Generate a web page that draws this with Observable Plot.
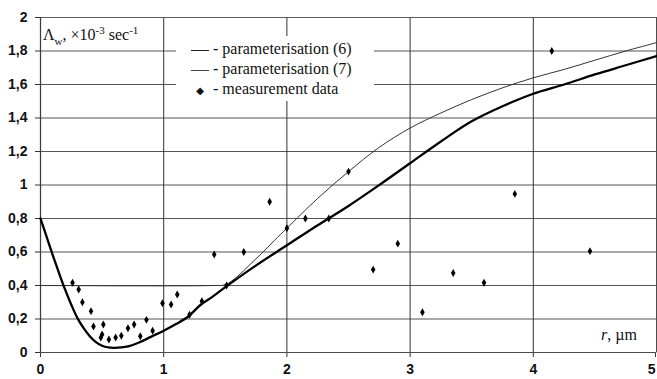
<!DOCTYPE html>
<html><head><meta charset="utf-8">
<script src="https://cdn.jsdelivr.net/npm/d3@7"></script>
<script src="https://cdn.jsdelivr.net/npm/@observablehq/plot@0.6"></script>
<style>
body{margin:0;background:#fff;}
#wrap{position:relative;width:657px;height:379px;}
#legend{position:absolute;left:176px;top:36px;width:198px;height:65px;background:#fff;font-family:"Liberation Serif",serif;font-size:16px;color:#111;}
#legend .row{position:absolute;left:0;height:20px;line-height:20px;white-space:nowrap;}
#ylab{position:absolute;left:43px;top:24px;font-family:"Liberation Serif",serif;font-size:16px;color:#111;}
#xlab{position:absolute;left:601px;top:326px;font-family:"Liberation Serif",serif;font-size:16px;color:#111;}
</style></head><body>
<div id="wrap"></div>
<script>
// parameterisation (6) — thick line
const p6x = [0,0.05,0.1,0.15,0.2,0.25,0.3,0.35,0.4,0.45,0.5,0.55,0.6,0.7,0.8,0.9,1.0,1.1,1.2,1.3,1.4,1.5,1.75,2,2.25,2.5,2.75,3,3.25,3.5,3.75,4,4.25,4.5,4.75,5];
const p6y = [0.8,0.69,0.58,0.475,0.375,0.285,0.205,0.145,0.097,0.062,0.04,0.03,0.028,0.035,0.06,0.095,0.13,0.17,0.215,0.285,0.335,0.39,0.52,0.64,0.76,0.875,1.0,1.13,1.26,1.38,1.47,1.545,1.6,1.66,1.715,1.77];
// parameterisation (7) — thin line
const p7x = [0,1.4,1.5,1.6,1.7,1.8,1.9,2,2.25,2.5,2.75,3,3.25,3.5,3.75,4,4.25,4.5,4.75,5];
const p7y = [0.4,0.4,0.405,0.455,0.525,0.595,0.67,0.742,0.92,1.08,1.225,1.34,1.43,1.51,1.58,1.64,1.69,1.745,1.8,1.85];
// measurement data
const mx = [0.26,0.31,0.34,0.41,0.43,0.49,0.50,0.51,0.555,0.61,0.656,0.71,0.76,0.81,0.86,0.91,0.99,1.06,1.11,1.21,1.31,1.41,1.51,1.65,1.86,2.0,2.15,2.34,2.5,2.7,2.9,3.1,3.35,3.6,3.85,4.15,4.46];
const my = [0.416,0.376,0.30,0.247,0.155,0.09,0.107,0.167,0.078,0.09,0.10,0.145,0.167,0.097,0.195,0.13,0.294,0.287,0.346,0.225,0.306,0.585,0.40,0.60,0.90,0.742,0.80,0.80,1.08,0.495,0.65,0.24,0.475,0.416,0.947,1.80,0.605];
const yTicks = [0,0.2,0.4,0.6,0.8,1,1.2,1.4,1.6,1.8,2];
const xTicks = [0,1,2,3,4,5];

const p6 = p6x.map((x,i)=>({x, y:p6y[i]}));
const p7 = p7x.map((x,i)=>({x, y:p7y[i]}));
const meas = mx.map((x,i)=>({x, y:my[i]}));
const fmt = d => String(d).replace(".", ",");

const chart = Plot.plot({
  width: 657, height: 379,
  marginLeft: 40, marginRight: 1, marginTop: 17, marginBottom: 27,
  style: {fontFamily: "Liberation Sans, Arial, sans-serif", fontSize: "14px", background: "#fff", color: "#111"},
  x: {domain: [0,5]},
  y: {domain: [0,2]},
  marks: [
    Plot.gridY(yTicks, {stroke: "#555", strokeOpacity: 1, strokeWidth: 1}),
    Plot.gridX(xTicks, {stroke: "#333", strokeOpacity: 1, strokeWidth: 1}),
    Plot.axisY(yTicks, {tickSize: 5, tickPadding: 8, tickFormat: fmt, fontWeight: "bold", fontSize: 14, label: null, stroke: "#333"}),
    Plot.axisX(xTicks.slice(0, -1), {tickSize: 5, tickPadding: 7, tickFormat: fmt, fontWeight: "bold", fontSize: 14, label: null, stroke: "#333"}),
    Plot.axisX(xTicks.slice(-1), {tickSize: 5, tickPadding: 7, tickFormat: fmt, fontWeight: "bold", fontSize: 14, label: null, stroke: "#333", textAnchor: "end", dx: -1}),
    Plot.ruleX([0], {stroke: "#111", strokeWidth: 1.2}),
    Plot.ruleY([0], {stroke: "#333", strokeWidth: 1.2}),
    Plot.frame({stroke: "#666", strokeDasharray: "1,1"}),
    Plot.line(p7, {x: "x", y: "y", stroke: "#333", strokeWidth: 1, curve: "catmull-rom"}),
    Plot.line(p6, {x: "x", y: "y", stroke: "#000", strokeWidth: 2.3, curve: "catmull-rom"}),
    Plot.dot(meas, {x: "x", y: "y", symbol: "diamond", r: 2.4, fill: "#000", stroke: "none"})
  ]
});
const wrap = document.getElementById("wrap");
wrap.appendChild(chart);

const leg = document.createElement("div");
leg.id = "legend";
leg.innerHTML = `
 <div class="row" style="top:3px"><span style="display:inline-block;width:18px;border-top:1.6px solid #222;vertical-align:middle;margin-left:15px"></span> - parameterisation (6)</div>
 <div class="row" style="top:23px"><span style="display:inline-block;width:18px;border-top:1px solid #444;vertical-align:middle;margin-left:15px"></span> - parameterisation (7)</div>
 <div class="row" style="top:43px"><span style="display:inline-block;width:18px;text-align:center;margin-left:15px;font-family:'DejaVu Sans';font-size:10px">◆</span> - measurement data</div>`;
wrap.appendChild(leg);

const yl = document.createElement("div");
yl.id = "ylab";
yl.innerHTML = "Λ<sub style='font-size:11px'>w</sub>, ×10<sup style='font-size:11px'>-3</sup> sec<sup style='font-size:11px'>-1</sup>";
wrap.appendChild(yl);

const xl = document.createElement("div");
xl.id = "xlab";
xl.innerHTML = "<i>r</i>, µm";
wrap.appendChild(xl);
</script>
</body></html>
